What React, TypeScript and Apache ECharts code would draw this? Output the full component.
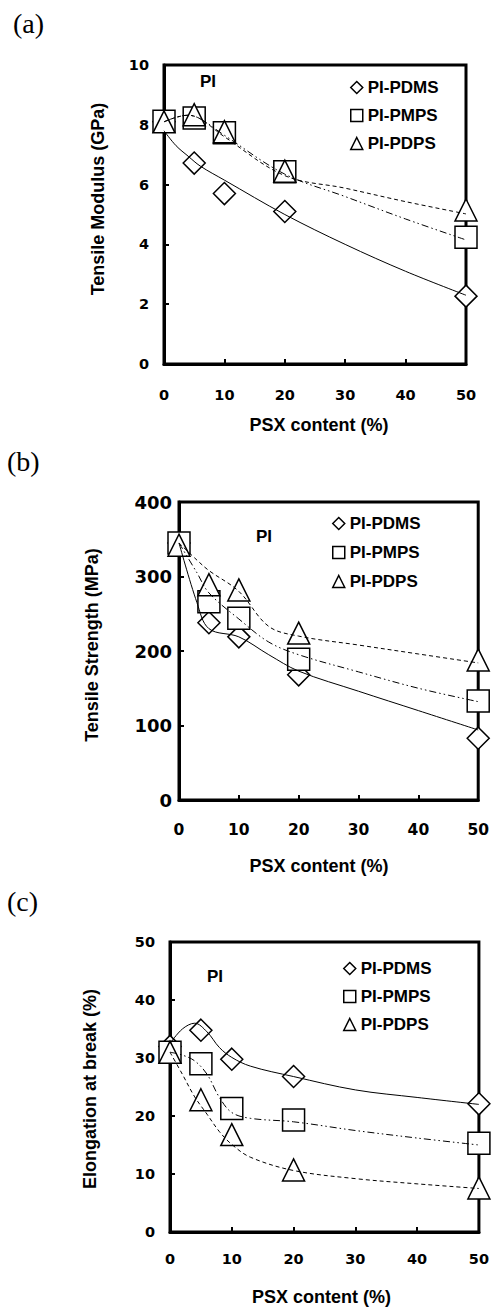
import React, { useEffect, useRef } from "react";
import * as echarts from "echarts";

// ---- measured data ----
const psxContent = [0, 5, 10, 20, 50];
const seriesNames = ["PI-PDMS", "PI-PMPS", "PI-PDPS"];
const symbols = ["diamond", "rect", "triangle"];

// (a) Tensile modulus (GPa)
const modulusPDMS = [8.1, 6.72, 5.7, 5.1, 2.27];
const modulusPMPS = [8.12, 8.23, 7.73, 6.43, 4.24];
const modulusPDPS = [8.1, 8.34, 7.77, 6.45, 5.15];
// (b) Tensile strength (MPa)
const strengthPDMS = [345, 238, 219, 168, 83];
const strengthPMPS = [345, 266, 244, 189, 133];
const strengthPDPS = [342, 289, 282, 224, 188];
// (c) Elongation at break (%)
const elongPDMS = [32, 34.8, 29.8, 26.8, 22.1];
const elongPMPS = [31, 29, 21.3, 19.3, 15.3];
const elongPDPS = [31, 22.8, 16.8, 10.7, 7.6];

// trend curves
const fitAX = [0, 2, 4, 6, 10, 20, 30, 40, 50];
const fitA_PDMS = [7.8, 7.3, 6.95, 6.62, 6.15, 5.0, 4.0, 3.1, 2.3];
const fitA_PMPS = [8.1, 8.25, 8.32, 8.2, 7.65, 6.35, 5.6, 4.85, 4.15];
const fitA_PDPS = [8.1, 8.25, 8.32, 8.2, 7.6, 6.3, 5.88, 5.43, 5.02];

const fitBX = [0, 3, 5, 10, 15, 20, 30, 40, 50];
const fitB_PDMS = [345, 265, 230, 219, 195, 173, 146, 120, 94];
const fitB_PMPS = [345, 305, 278, 243, 212, 195, 172, 150, 132];
const fitB_PDPS = [345, 322, 308, 280, 233, 220, 208, 196, 184];

const fitCX = [0, 2, 4, 6, 8, 10, 13, 20, 30, 40, 50];
const fitC_PDMS = [32.5, 35, 36, 34.5, 31.8, 30.1, 28.6, 26.8, 24.5, 23.2, 22];
const fitC_PMPS = [31, 30.5, 29.5, 27.2, 23.2, 20.6, 19.6, 19.0, 17.5, 16.2, 15.0];
const fitC_PDPS = [31, 27.2, 23.3, 20.3, 17.3, 15.1, 12.9, 10.6, 9.2, 8.3, 7.5];

const xTicks = [0, 10, 20, 30, 40, 50];
const yRangeA = [0, 10, 2];
const yRangeB = [0, 400, 100];
const yRangeC = [0, 50, 10];

const panelLabels = ["(a)", "(b)", "(c)"];
const yTitles = ["Tensile Modulus (GPa)", "Tensile Strength (MPa)", "Elongation at break (%)"];
const xTitle = "PSX content (%)";
const insideLabel = "PI";

const lineTypes: any[] = ["solid", [7, 3, 1.5, 3, 1.5, 3], [4, 3]];

const pair = (xs: number[], ys: number[]) => xs.map((x, i) => [x, ys[i]]);

export default function App() {
  const ref = useRef<HTMLDivElement>(null);
  useEffect(() => {
    if (!ref.current) return;
    const chart = echarts.init(ref.current, null, { renderer: "svg" });

    const panels = [
      {
        grid: { left: 164, top: 65, width: 302, height: 299 },
        yr: yRangeA, yFont: 14.5, xFont: 14.5, yMargin: 15, xMargin: 23,
        pts: [modulusPDMS, modulusPMPS, modulusPDPS],
        fx: fitAX, fits: [fitA_PDMS, fitA_PMPS, fitA_PDPS],
        legend: { left: 350, top: 77.5, gap: 8 },
        pi: [208, 81], panel: [13, 23], ytitle: [97.5, 199], xtitle: [319, 425],
      },
      {
        grid: { left: 179, top: 502, width: 300, height: 298 },
        yr: yRangeB, yFont: 18, xFont: 15.5, yMargin: 7, xMargin: 22,
        pts: [strengthPDMS, strengthPMPS, strengthPDPS],
        fx: fitBX, fits: [fitB_PDMS, fitB_PMPS, fitB_PDPS],
        legend: { left: 332, top: 513.5, gap: 9 },
        pi: [264, 536], panel: [7, 461], ytitle: [92, 645], xtitle: [319, 865.5],
      },
      {
        grid: { left: 170, top: 942, width: 312, height: 290 },
        yr: yRangeC, yFont: 14.5, xFont: 14.5, yMargin: 15, xMargin: 19.6,
        pts: [elongPDMS, elongPMPS, elongPDPS],
        fx: fitCX, fits: [fitC_PDMS, fitC_PMPS, fitC_PDPS],
        legend: { left: 343, top: 958.5, gap: 8 },
        pi: [215, 976.5], panel: [7, 901], ytitle: [90, 1089], xtitle: [321.5, 1296.7],
      },
    ];

    const tickFont = { fontFamily: "DejaVu Sans", fontWeight: "bold" as const, color: "#000" };
    const grids: any[] = [];
    const xAxes: any[] = [];
    const yAxes: any[] = [];
    const series: any[] = [];
    const legends: any[] = [];
    const graphics: any[] = [];

    panels.forEach((p, i) => {
      grids.push({ ...p.grid, show: true, borderColor: "#000", borderWidth: 3, containLabel: false });
      xAxes.push({
        gridIndex: i, type: "value", min: xTicks[0], max: xTicks[xTicks.length - 1], interval: 10,
        axisLine: { show: true, onZero: false, lineStyle: { color: "#000", width: 3 } },
        axisTick: { show: true, inside: true, length: 5, lineStyle: { color: "#000", width: 2 } },
        axisLabel: { ...tickFont, fontSize: p.xFont, margin: p.xMargin },
        splitLine: { show: false },
      });
      yAxes.push({
        gridIndex: i, type: "value", min: p.yr[0], max: p.yr[1], interval: p.yr[2],
        axisLine: { show: true, onZero: false, lineStyle: { color: "#000", width: 3 } },
        axisTick: { show: true, inside: true, length: 5, lineStyle: { color: "#000", width: 2 } },
        axisLabel: { ...tickFont, fontSize: p.yFont, margin: p.yMargin },
        splitLine: { show: false },
      });
      p.pts.forEach((vals, k) => {
        series.push({
          name: seriesNames[k], type: "scatter", xAxisIndex: i, yAxisIndex: i,
          data: pair(psxContent, vals), symbol: symbols[k], symbolSize: 22, clip: false,
          itemStyle: { color: "#fff", borderColor: "#000", borderWidth: 1.5, opacity: 1 },
          z: 2,
        });
      });
      p.fits.forEach((vals, k) => {
        series.push({
          name: "fit " + seriesNames[k] + " " + i, type: "line", xAxisIndex: i, yAxisIndex: i,
          data: pair(p.fx, vals), showSymbol: false, symbol: "none", smooth: 0.35, silent: true,
          lineStyle: { color: "#000", width: 1, type: lineTypes[k] }, z: 3,
        });
      });
      legends.push({
        orient: "vertical", left: p.legend.left, top: p.legend.top, itemGap: p.legend.gap,
        itemWidth: 12, itemHeight: 12, padding: 0, selectedMode: false,
        data: seriesNames.map((n, k) => ({ name: n, icon: symbols[k] })),
        itemStyle: { color: "#fff", borderColor: "#000", borderWidth: 1.5 },
        textStyle: { fontFamily: "Liberation Sans", fontWeight: "bold", fontSize: 17, color: "#000", lineHeight: 20 },
      });
      graphics.push({
        type: "text", x: p.pi[0], y: p.pi[1],
        style: { text: insideLabel, fontFamily: "Liberation Sans", fontWeight: "bold", fontSize: 17, fill: "#000", align: "center", verticalAlign: "middle" },
      });
      graphics.push({
        type: "text", x: p.panel[0], y: p.panel[1],
        style: { text: panelLabels[i], fontFamily: "Liberation Serif", fontSize: 28, fill: "#000", align: "left", verticalAlign: "middle" },
      });
      graphics.push({
        type: "text", x: p.ytitle[0], y: p.ytitle[1], rotation: Math.PI / 2,
        style: { text: yTitles[i], fontFamily: "Liberation Sans", fontWeight: "bold", fontSize: 18, fill: "#000", align: "center", verticalAlign: "middle" },
      });
      graphics.push({
        type: "text", x: p.xtitle[0], y: p.xtitle[1],
        style: { text: xTitle, fontFamily: "Liberation Sans", fontWeight: "bold", fontSize: 18, fill: "#000", align: "center", verticalAlign: "middle" },
      });
    });

    chart.setOption({
      animation: false,
      backgroundColor: "#fff",
      grid: grids,
      xAxis: xAxes,
      yAxis: yAxes,
      legend: legends,
      series,
      graphic: graphics,
    });
    return () => chart.dispose();
  }, []);
  return <div ref={ref} style={{ position: "absolute", left: 0, top: 0, width: 492, height: 1308 }} />;
}
